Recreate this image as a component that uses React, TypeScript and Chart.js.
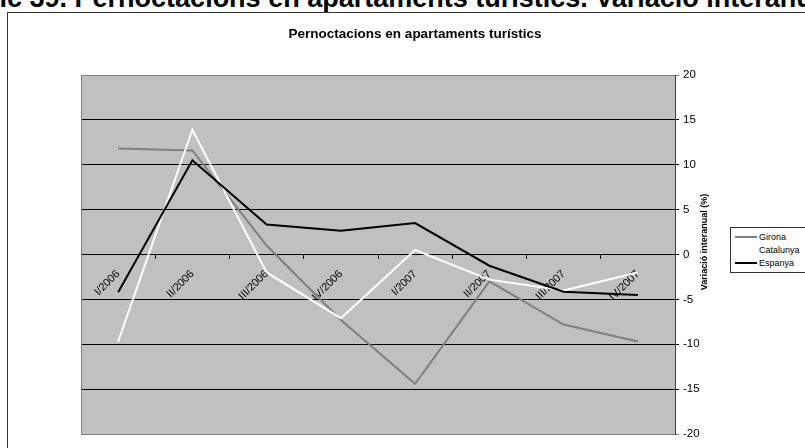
import React, { useEffect, useRef } from "react";
import { Chart, registerables } from "chart.js";

Chart.register(...registerables);

const categories = ["I/2006", "II/2006", "III/2006", "IV/2006", "I/2007", "II/2007", "III/2007", "IV/2007"];
const girona = [11.8, 11.6, 1.0, -7.3, -14.4, -3.0, -7.8, -9.7];
const catalunya = [-9.7, 13.9, -2.0, -7.1, 0.5, -2.8, -4.0, -2.0];
const espanya = [-4.2, 10.5, 3.35, 2.65, 3.5, -1.25, -4.15, -4.5];
const seriesNames = ["Girona", "Catalunya", "Espanya"];
const seriesColors = ["#808080", "#FFFFFF", "#000000"];
const yMin = -20;
const yMax = 20;
const yStep = 5;

const chartTitle = "Pernoctacions en apartaments turístics";
const yTitle = "Variació interanual (%)";
const heading = "Gràfic 39. Pernoctacions en apartaments turístics. Variació interanual";

const FONT = "'Liberation Sans', Arial, sans-serif";

const plotBg = {
  id: "plotBg",
  beforeDraw(chart: any) {
    const { ctx, chartArea } = chart;
    const { left, top, width, height } = chartArea;
    ctx.save();
    ctx.fillStyle = "#C0C0C0";
    ctx.fillRect(left, top, width, height);
    ctx.restore();
  },
  beforeDatasetsDraw(chart: any) {
    const { ctx, chartArea } = chart;
    const { left, top, right, bottom } = chartArea;
    ctx.save();
    ctx.strokeStyle = "#808080";
    ctx.lineWidth = 1;
    ctx.beginPath();
    ctx.moveTo(right, Math.round(top) + 0.5);
    ctx.lineTo(Math.round(left) + 0.5, Math.round(top) + 0.5);
    ctx.lineTo(Math.round(left) + 0.5, Math.round(bottom) + 0.5);
    ctx.lineTo(right, Math.round(bottom) + 0.5);
    ctx.stroke();
    ctx.restore();
  },
  afterDraw(chart: any) {
    const { ctx, chartArea } = chart;
    ctx.save();
    ctx.fillStyle = "#000";
    ctx.font = `bold 13.5px ${FONT}`;
    ctx.textAlign = "center";
    ctx.textBaseline = "middle";
    ctx.fillText(chartTitle, 415, 34);
    ctx.translate(chartArea.right + 30, 242);
    ctx.rotate(-Math.PI / 2);
    ctx.font = `bold 9px ${FONT}`;
    ctx.fillText(yTitle, 0, 0);
    ctx.restore();
  },
};

function ChartCanvas() {
  const ref = useRef<HTMLCanvasElement>(null);
  useEffect(() => {
    if (!ref.current) return;
    const chart = new Chart(ref.current, {
      type: "line",
      data: {
        labels: categories,
        datasets: [
          { label: seriesNames[0], data: girona, borderColor: seriesColors[0], borderWidth: 2, pointRadius: 0, order: 2, tension: 0 },
          { label: seriesNames[1], data: catalunya, borderColor: seriesColors[1], borderWidth: 2, pointRadius: 0, order: 1, tension: 0 },
          { label: seriesNames[2], data: espanya, borderColor: seriesColors[2], borderWidth: 2, pointRadius: 0, order: 0, tension: 0 },
        ],
      },
      plugins: [plotBg],
      options: {
        animation: false,
        responsive: false,
        maintainAspectRatio: false,
        layout: { padding: { left: 81, top: 75, right: 90, bottom: 14 } },
        plugins: {
          legend: { display: false },
          title: { display: false },
          tooltip: { enabled: false },
        },
        scales: {
          x: {
            type: "category",
            position: { y: 0 } as any,
            offset: true,
            grid: {
              offset: true,
              drawOnChartArea: false,
              drawTicks: true,
              tickLength: 4,
              color: "#000",
            },
            border: { display: true, color: "#000", width: 1 },
            ticks: {
              maxRotation: 45,
              minRotation: 45,
              autoSkip: false,
              padding: 9,
              color: "#000",
              font: { family: FONT, size: 11 },
            },
          },
          y: {
            position: "right",
            min: yMin,
            max: yMax,
            ticks: {
              stepSize: yStep,
              padding: 4,
              color: "#000",
              font: { family: FONT, size: 11.5 },
            },
            grid: {
              drawTicks: true,
              tickLength: 4,
              color: (c: any) => (c.tick && (c.tick.value === yMin || c.tick.value === yMax) ? "#808080" : "#000"),
            },
            border: { display: true, color: "#404040", width: 1 },
            afterFit: (scale: any) => {
              scale.width = 40;
            },
          },
        },
      },
    });
    return () => chart.destroy();
  }, []);
  return <canvas ref={ref} width={805} height={448} style={{ position: "absolute", left: 0, top: 0, width: 805, height: 448 }} />;
}

export default function App() {
  const legendRows = seriesNames.map((name, i) => (
    <div
      key={name}
      style={{
        position: "absolute",
        left: 4,
        top: 3 + i * 13,
        height: 12,
        display: "flex",
        alignItems: "center",
        whiteSpace: "nowrap",
      }}
    >
      <div style={{ width: 22, height: i === 0 ? 1.5 : 2, background: seriesColors[i] }} />
      <span style={{ marginLeft: 2, font: `9px ${FONT}`, color: "#000" }}>{name}</span>
    </div>
  ));
  return (
    <div style={{ position: "fixed", left: 0, top: 0, width: 805, height: 448, overflow: "hidden", background: "#fff" }}>
      <div
        style={{
          position: "absolute",
          left: -56,
          top: -15,
          font: `bold 27px ${FONT}`,
          lineHeight: "27px",
          whiteSpace: "nowrap",
          color: "#000",
        }}
      >
        {heading}
      </div>
      <div style={{ position: "absolute", left: 7, top: 12, width: 900, height: 500, border: "1px solid #333", boxSizing: "border-box" }} />
      <ChartCanvas />
      <div
        style={{
          position: "absolute",
          left: 730,
          top: 227,
          width: 80,
          height: 46,
          border: "1px solid #333",
          background: "#fff",
          boxSizing: "border-box",
        }}
      >
        {legendRows}
      </div>
    </div>
  );
}
